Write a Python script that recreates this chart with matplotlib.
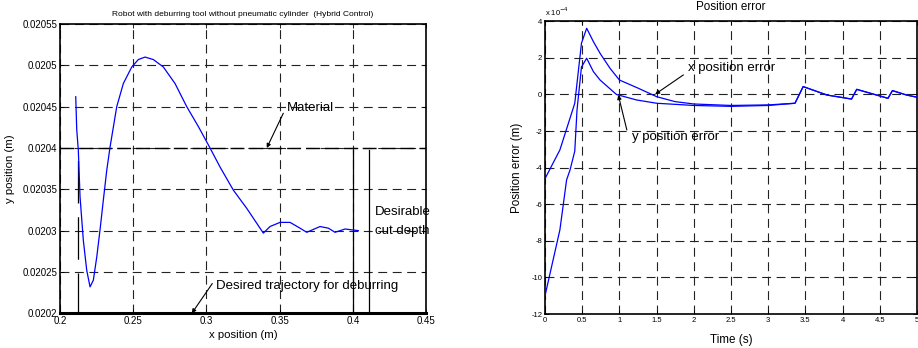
import matplotlib
matplotlib.use("Agg")
import matplotlib.pyplot as plt

plt.rcParams['font.family'] = ['Liberation Sans', 'DejaVu Sans']
plt.rcParams['axes.unicode_minus'] = False

# --- Left panel: tool path in the x-y plane ---
path_x = [0.21072, 0.21141, 0.2125, 0.21366, 0.21592, 0.21824, 0.22049, 0.22275,
          0.22507, 0.22732, 0.22958, 0.2319, 0.23415, 0.23873, 0.24324, 0.24898,
          0.25348, 0.25806, 0.26373, 0.27056, 0.27855, 0.28654, 0.29447, 0.30246,
          0.30929, 0.31838, 0.32753, 0.33887, 0.34344, 0.35027, 0.3571, 0.36393,
          0.36851, 0.3776, 0.38327, 0.38784, 0.39467, 0.39925, 0.40376]
path_y = [0.020462, 0.020422, 0.020397, 0.020341, 0.020288, 0.020252, 0.020232, 0.02024,
          0.020268, 0.020301, 0.020337, 0.020373, 0.020401, 0.02045, 0.020478, 0.020498,
          0.020507, 0.02051, 0.020507, 0.020498, 0.020478, 0.02045, 0.020426, 0.0204,
          0.020377, 0.020349, 0.020327, 0.020297, 0.020305, 0.02031, 0.02031, 0.020303,
          0.020298, 0.020305, 0.020303, 0.020298, 0.020302, 0.020301, 0.0203]

material_y = 0.0204
desired_y = 0.0202
start_mark_x = 0.212
cut_marks_x = [0.4, 0.4113]

left_xticks = [0.2, 0.25, 0.3, 0.35, 0.4, 0.45]
left_yticks = [0.0202, 0.02025, 0.0203, 0.02035, 0.0204, 0.02045, 0.0205, 0.02055]

# --- Right panel: position errors over time (units of 1e-4 m) ---
tx = [0, 0.2, 0.40, 0.49, 0.56, 0.65, 0.74, 0.874, 1.0, 1.254, 1.5, 1.747, 2.0,
      2.5, 3.0, 3.36, 3.47, 3.79, 4.12, 4.19, 4.37, 4.61, 4.67, 4.86, 5.0]
ex = [-4.6, -3.03, -0.48, 2.8, 3.62, 2.89, 2.25, 1.43, 0.79, 0.34, -0.12, -0.39, -0.52,
      -0.6, -0.57, -0.48, 0.43, -0.03, -0.25, 0.28, 0.07, -0.21, 0.21, -0.03, -0.15]

ty = [0, 0.2, 0.29, 0.336, 0.40, 0.43, 0.49, 0.56, 0.65, 0.74, 0.96, 1.23, 1.5, 2.0,
      2.5, 3.0, 3.36, 3.47, 3.79, 4.12, 4.19, 4.37, 4.61, 4.67, 4.86, 5.0]
ey = [-11.0, -7.4, -4.67, -4.13, -3.1, -0.85, 1.5, 1.98, 1.25, 0.79, 0.0, -0.3, -0.48, -0.6,
      -0.65, -0.6, -0.48, 0.43, -0.03, -0.25, 0.28, 0.07, -0.21, 0.21, -0.03, -0.15]

right_xticks = [0, 0.5, 1, 1.5, 2, 2.5, 3, 3.5, 4, 4.5, 5]
right_xlabels = ['0', '0.5', '1', '1.5', '2', '2.5', '3', '3.5', '4', '4.5', '5']
right_yticks = [-12, -10, -8, -6, -4, -2, 0, 2, 4]

fig = plt.figure(figsize=(9.18, 3.48), dpi=100)
ax1 = fig.add_axes([0.0654, 0.0997, 0.3987, 0.8313])
ax2 = fig.add_axes([0.5937, 0.0977, 0.4052, 0.8411])

blue = (0, 0, 1)
grid_style = dict(color='#222222', linestyle=(0, (8, 5)), linewidth=0.8)
arrow = dict(arrowstyle='-|>', color='k', lw=0.8, mutation_scale=6, shrinkA=0, shrinkB=0)


def pointer(ax, tip, tail):
    ax.annotate('', xy=tip, xytext=tail, arrowprops=arrow, zorder=5)


for ax in (ax1, ax2):
    ax.tick_params(direction='in', length=3, width=0.6, top=True, right=True, pad=2)
    for s in ax.spines.values():
        s.set_linewidth(1.2)
    ax.grid(True, **grid_style)
    ax.set_axisbelow(True)

# left panel
ax1.plot(path_x, path_y, color=blue, lw=0.9, zorder=3)
ax1.plot([0.2, 0.45], [material_y, material_y], color='k', lw=1.0,
         linestyle=(0, (10, 3.6)), zorder=2)
ax1.plot([0.2, 0.45], [desired_y, desired_y], color='k', lw=2.2, zorder=4, clip_on=False)
ax1.plot([start_mark_x, start_mark_x], [desired_y, material_y - 0.000003], color='k',
         lw=0.9, linestyle=(2, (34, 11)), zorder=2)
for cx in cut_marks_x:
    ax1.plot([cx, cx], [desired_y, material_y - 0.000003], color='k', lw=0.9, zorder=2)

ax1.set_xlim(0.2, 0.45)
ax1.set_ylim(0.0202, 0.02055)
ax1.set_xticks(left_xticks)
ax1.set_xticklabels([f'{v:g}' for v in left_xticks])
ax1.set_yticks(left_yticks)
ax1.set_yticklabels([f'{v:g}' for v in left_yticks])
ax1.tick_params(labelsize=7)
ax1.set_xlabel('x position (m)', fontsize=8.2, labelpad=3)
ax1.set_ylabel('y position (m)', fontsize=8.2, labelpad=5)
ax1.set_title('Robot with deburring tool without pneumatic cylinder  (Hybrid Control)',
              fontsize=6, pad=6)

ax1.text(0.3548, 0.020448, 'Material', fontsize=9.5, va='center', ha='left')
pointer(ax1, (0.3412, 0.0204), (0.3525, 0.020442))
ax1.text(0.3066, 0.020233, 'Desired trajectory for deburring', fontsize=9.5,
         va='center', ha='left')
pointer(ax1, (0.29, 0.0202), (0.304, 0.020236))
ax1.text(0.4151, 0.020322, 'Desirable', fontsize=9.5, va='center', ha='left')
ax1.text(0.4151, 0.0203, 'cut depth', fontsize=9.5, va='center', ha='left')

# right panel
ax2.plot(tx, ex, color=blue, lw=0.9, zorder=3)
ax2.plot(ty, ey, color=blue, lw=0.9, zorder=3)
ax2.set_xlim(0, 5)
ax2.set_ylim(-12, 4)
ax2.set_xticks(right_xticks)
ax2.set_xticklabels(right_xlabels)
ax2.set_yticks(right_yticks)
ax2.tick_params(labelsize=5.5)
ax2.set_xlabel('Time (s)', fontsize=8.4, labelpad=7)
ax2.set_ylabel('Position error (m)', fontsize=8.4, labelpad=6)
ax2.set_title('Position error', fontsize=8.4, pad=8)
ax2.text(0.0, 1.012, r'x 10$^{-4}$', transform=ax2.transAxes, fontsize=5.5,
         va='bottom', ha='left')

ax2.text(1.92, 1.43, 'x position error', fontsize=9.5, va='center', ha='left')
pointer(ax2, (1.48, 0.01), (1.86, 1.07))
ax2.text(1.165, -2.3, 'y position error', fontsize=9.5, va='center', ha='left')
pointer(ax2, (0.985, -0.03), (1.10, -1.94))

fig.savefig('out.png', dpi=100)
